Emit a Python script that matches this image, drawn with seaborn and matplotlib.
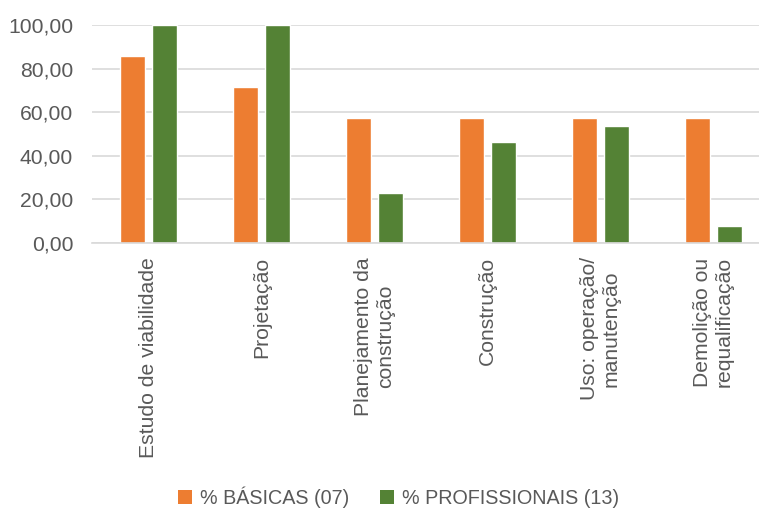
import matplotlib
matplotlib.use("Agg")
import matplotlib.pyplot as plt
from matplotlib.patches import Patch
import pandas as pd
import seaborn as sns

categories = ["Estudo de viabilidade", "Projetação", "Planejamento da\nconstrução",
              "Construção", "Uso: operação/\nmanutenção", "Demolição ou\nrequalificação"]
basicas = [85.71, 71.43, 57.14, 57.14, 57.14, 57.14]
profissionais = [100.00, 100.00, 23.08, 46.15, 53.85, 7.69]
series = ["% BÁSICAS (07)", "% PROFISSIONAIS (13)"]
colors = ["#ED7D31", "#548235"]

df = pd.DataFrame({
    "cat": categories * 2,
    "val": basicas + profissionais,
    "serie": [series[0]] * len(categories) + [series[1]] * len(categories),
})

sns.set_style("white")
plt.rcParams["font.family"] = ["Liberation Sans", "DejaVu Sans"]
txt = "#595959"

fig = plt.figure(figsize=(7.59, 5.11), dpi=100)
ax = fig.add_axes([92 / 759, 1 - 243 / 511, 678 / 759, 218 / 511])

sns.barplot(data=df, x="cat", y="val", hue="serie", palette=colors,
            width=0.57, gap=0.2, ax=ax, legend=False, saturation=1)

ax.set_xlim(-0.5, 5.5)
ax.set_ylim(0, 100)
ax.set_yticks(range(0, 101, 20))
ax.set_yticklabels([f"{v:.2f}".replace(".", ",") for v in range(0, 101, 20)],
                   fontsize=15.2, color=txt)
ax.set_xticks(range(len(categories)))
ax.set_xticklabels(categories, rotation=90, fontsize=15.2, color=txt,
                   ha="center", va="top", multialignment="center")
ax.tick_params(axis="y", length=0, pad=13.5)
ax.tick_params(axis="x", length=0, pad=10)
ax.yaxis.grid(True, color="#D9D9D9", linewidth=1.2)
ax.set_axisbelow(True)
for s in ["top", "right", "left"]:
    ax.spines[s].set_visible(False)
ax.spines["bottom"].set_color("#D9D9D9")
ax.spines["bottom"].set_linewidth(1.2)
ax.set_xlabel("")
ax.set_ylabel("")

handles = [Patch(facecolor=c, edgecolor="none") for c in colors]
fig.legend(handles, series, loc="center", bbox_to_anchor=(398.5 / 759, 1 - 497 / 511),
           ncol=2, frameon=False, fontsize=14.2, handlelength=0.7, handleheight=0.7,
           handletextpad=0.4, columnspacing=1.6, labelcolor=txt)

fig.savefig("out.png", dpi=100)
